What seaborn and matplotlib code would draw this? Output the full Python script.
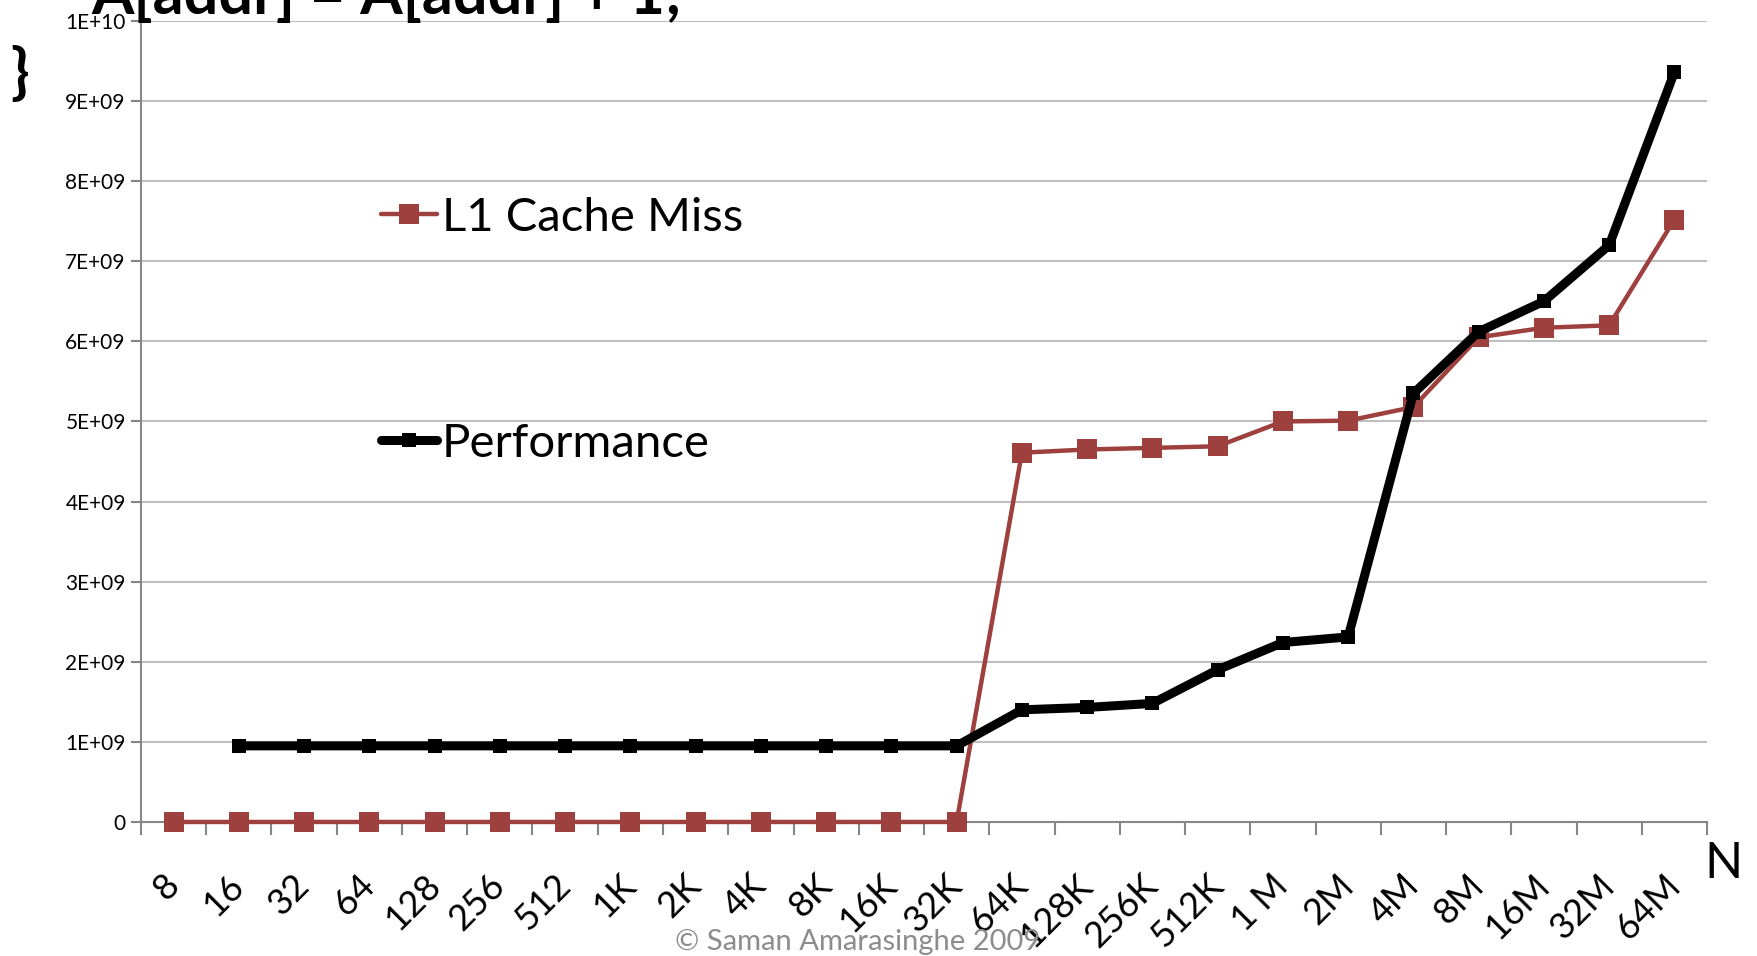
import matplotlib.pyplot as plt
import numpy as np
import pandas as pd
import seaborn as sns

# array sizes (x categories)
sizes = ["8", "16", "32", "64", "128", "256", "512", "1K", "2K", "4K", "8K", "16K", "32K",
         "64K", "128K", "256K", "512K", "1 M", "2M", "4M", "8M", "16M", "32M", "64M"]

l1_cache_miss = [0, 0, 0, 0, 0, 0, 0, 0, 0, 0, 0, 0, 0,
                 4.61e9, 4.65e9, 4.67e9, 4.69e9, 5.00e9, 5.01e9, 5.18e9, 6.05e9, 6.17e9, 6.20e9, 7.52e9]

performance = [np.nan, 0.95e9, 0.95e9, 0.95e9, 0.95e9, 0.95e9, 0.95e9, 0.95e9, 0.95e9, 0.95e9, 0.95e9, 0.95e9, 0.95e9,
               1.40e9, 1.43e9, 1.48e9, 1.90e9, 2.24e9, 2.31e9, 5.35e9, 6.12e9, 6.50e9, 7.20e9, 9.36e9]

yticks = [0, 1e9, 2e9, 3e9, 4e9, 5e9, 6e9, 7e9, 8e9, 9e9, 1e10]
ytick_labels = ["0", "1E+09", "2E+09", "3E+09", "4E+09", "5E+09", "6E+09", "7E+09", "8E+09", "9E+09", "1E+10"]

RED = "#9E413E"
GRID = "#BFBFBF"
AXIS = "#868686"


def main():
    sns.set_theme(style="white")
    plt.rcParams["font.family"] = ["Lato", "DejaVu Sans"]
    plt.rcParams["text.color"] = "black"
    plt.rcParams["xtick.color"] = "black"
    plt.rcParams["ytick.color"] = "black"

    df = pd.DataFrame({"pos": np.arange(len(sizes)), "size": sizes,
                       "l1": l1_cache_miss, "perf": performance})

    fig = plt.figure(figsize=(17.58, 9.56), dpi=100)
    ax = fig.add_axes([0.0802, 0.1402, 0.8908, 0.8379])

    for y in yticks[1:]:
        ax.axhline(y, color=GRID, lw=1.5, zorder=0)

    sns.lineplot(data=df, x="pos", y="l1", ax=ax, sort=False, color=RED, lw=3.2,
                 marker="s", markersize=14, markeredgewidth=0, label="L1 Cache Miss", clip_on=False)
    perf = df.dropna(subset=["perf"])
    sns.lineplot(data=perf, x="pos", y="perf", ax=ax, sort=False, color="black", lw=6.5,
                 marker="s", markersize=10, markeredgewidth=0, label="Performance", clip_on=False)

    ax.set_xlim(-0.5, len(sizes) - 0.5)
    ax.set_ylim(0, 1e10)
    ax.set_xlabel("")
    ax.set_ylabel("")

    ax.set_yticks(yticks)
    ax.set_yticklabels(ytick_labels, family=["Liberation Sans Narrow", "Lato"], fontsize=15)
    ax.tick_params(axis="y", length=7, width=1.5, color=AXIS, labelcolor="black",
                   direction="out", left=True, pad=4)

    ax.set_xticks(df["pos"])
    ax.set_xticklabels(sizes, rotation=45, ha="right", va="center", rotation_mode="anchor", fontsize=26)
    ax.tick_params(axis="x", which="major", length=0, pad=42, labelcolor="black")
    ax.set_xticks(np.arange(len(sizes) + 1) - 0.5, minor=True)
    ax.tick_params(axis="x", which="minor", length=9, width=1.5, color=AXIS, direction="out", bottom=True)

    for side in ["top", "right"]:
        ax.spines[side].set_visible(False)
    for side in ["left", "bottom"]:
        ax.spines[side].set_color(AXIS)
        ax.spines[side].set_linewidth(1.5)
        ax.spines[side].set_zorder(1)

    handles, labels = ax.get_legend_handles_labels()
    ax.legend(handles, labels, loc="upper left", bbox_to_anchor=(0.138, 0.81), frameon=False,
              fontsize=34, labelspacing=3.9, handlelength=1.2, handletextpad=0.1, borderpad=0)

    fig.text(0.9915, 0.0965, "N", fontsize=36, ha="right", va="center")
    fig.text(0.488, 0.015, "\u00a9 Saman Amarasinghe 2009", fontsize=21, color="#8C8C8C",
             ha="center", va="center")
    fig.text(0.052, 1.005, "A[addr] = A[addr] + 1;", fontsize=44, fontweight="bold",
             ha="left", va="center", zorder=0)
    fig.text(0.006, 0.922, "}", fontsize=44, fontweight="bold", ha="left", va="center")

    fig.savefig("out.png", dpi=100)


if __name__ == "__main__":
    main()
